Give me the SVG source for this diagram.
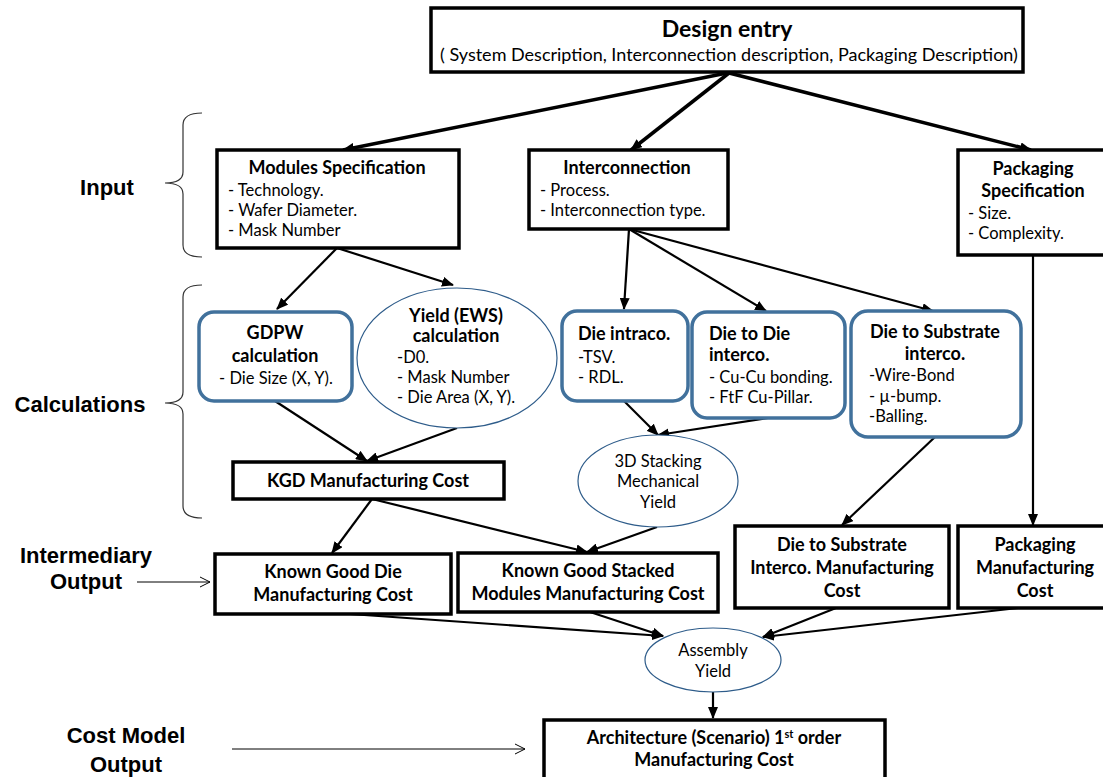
<svg xmlns="http://www.w3.org/2000/svg" width="1103" height="777" viewBox="0 0 1103 777">
<style>
.box{fill:#fff;stroke:#000;stroke-width:3.5}
.rbox{fill:#fff;stroke:#41719C;stroke-width:3.5}
.ell{fill:#fff;stroke:#2E5C8A;stroke-width:1.2}
.t{font-family:Lato,"Open Sans",sans-serif;font-size:16.5px;fill:#000}
.b{font-family:Lato,"Open Sans",sans-serif;font-size:18px;font-weight:bold;fill:#000}
.m{text-anchor:middle}
.lab{font-family:"Liberation Sans",Arial,sans-serif;font-size:22px;font-weight:bold;fill:#000;text-anchor:middle}
.e{fill:none;stroke:#000;stroke-width:2.2;marker-end:url(#ah)}
.h{fill:none;stroke:#000;stroke-width:3.5;marker-end:url(#ah)}
.thin{fill:none;stroke:#000;stroke-width:1;marker-end:url(#oa)}
.br{fill:none;stroke:#333;stroke-width:1.2}
</style>
<defs>
<marker id="ah" markerUnits="userSpaceOnUse" markerWidth="12" markerHeight="10" refX="11" refY="5" orient="auto">
<path d="M0,0 L12,5 L0,10 z" fill="#000"/>
</marker>
<marker id="oa" markerUnits="userSpaceOnUse" markerWidth="12" markerHeight="12" refX="11" refY="6" orient="auto">
<path d="M1,1 L11,6 L1,11" fill="none" stroke="#000" stroke-width="1"/>
</marker>
</defs>
<rect width="1103" height="777" fill="#fff"/>

<g id="labels">
<path class="br" d="M202,113 Q183,113 183,125 L183,172 Q183,183 165,183 Q183,183 183,194 L183,245 Q183,257 202,257"/>
<path class="br" d="M202,285 Q183,285 183,297 L183,392 Q183,403 165,403 Q183,403 183,414 L183,506 Q183,518 202,518"/>
<text class="lab" x="107" y="195">Input</text>
<text class="lab" x="80" y="412">Calculations</text>
<text class="lab" x="86" y="563">Intermediary</text>
<text class="lab" x="86" y="589">Output</text>
<text class="lab" x="126" y="743">Cost Model</text>
<text class="lab" x="126" y="772">Output</text>
</g>

<g id="connectors">
<line class="h" x1="727" y1="73" x2="343" y2="150"/>
<line class="h" x1="729" y1="73" x2="631" y2="150"/>
<line class="h" x1="729" y1="73" x2="1031" y2="150"/>
<line class="e" x1="337" y1="248" x2="277" y2="309"/>
<line class="e" x1="337" y1="248" x2="453" y2="285"/>
<line class="e" x1="629" y1="229" x2="624" y2="309"/>
<line class="e" x1="629" y1="229" x2="766" y2="311"/>
<line class="e" x1="629" y1="229" x2="933" y2="311"/>
<line class="e" x1="1033" y1="255" x2="1033" y2="525"/>
<line class="e" x1="275" y1="401" x2="367" y2="461"/>
<line class="e" x1="457" y1="428" x2="367" y2="461"/>
<line class="e" x1="624" y1="401" x2="658" y2="435"/>
<line class="e" x1="768" y1="418" x2="658" y2="435"/>
<line class="e" x1="935" y1="437" x2="842" y2="525"/>
<line class="e" x1="372" y1="499" x2="332" y2="553"/>
<line class="e" x1="372" y1="499" x2="587" y2="552"/>
<line class="e" x1="657" y1="527" x2="587" y2="552"/>
<line class="e" x1="350" y1="614" x2="663" y2="636"/>
<line class="e" x1="590" y1="612" x2="663" y2="636"/>
<line class="e" x1="836" y1="608" x2="763" y2="637"/>
<line class="e" x1="1018" y1="608" x2="763" y2="637"/>
<line class="e" x1="713" y1="692" x2="713" y2="718"/>
<line class="thin" x1="137" y1="582" x2="210" y2="582"/>
<line class="thin" x1="232" y1="749" x2="525" y2="749"/>
</g>

<g id="design-entry">
<rect class="box" x="431" y="8" width="592" height="64"/>
<text class="b m" x="727" y="37" style="font-size:23px">Design entry</text>
<text class="t m" x="729" y="61" style="font-size:18px">( System Description, Interconnection description, Packaging Description)</text>
</g>

<g id="modules-spec">
<rect class="box" x="217" y="150" width="242" height="98"/>
<text class="b m" x="337" y="174">Modules Specification</text>
<text class="t" x="228" y="196">- Technology.</text>
<text class="t" x="228" y="216">- Wafer Diameter.</text>
<text class="t" x="228" y="236">- Mask Number</text>
</g>

<g id="interconnection">
<rect class="box" x="529" y="150" width="199" height="79"/>
<text class="b m" x="627" y="174">Interconnection</text>
<text class="t" x="540" y="196">- Process.</text>
<text class="t" x="540" y="216">- Interconnection type.</text>
</g>

<g id="packaging-spec">
<rect class="box" x="958" y="150" width="160" height="105"/>
<text class="b m" x="1033" y="175">Packaging</text>
<text class="b m" x="1033" y="197">Specification</text>
<text class="t" x="968" y="219">- Size.</text>
<text class="t" x="968" y="239">- Complexity.</text>
</g>

<g id="gdpw">
<rect class="rbox" x="199" y="312" width="153" height="89" rx="15"/>
<text class="b m" x="275" y="339">GDPW</text>
<text class="b m" x="275" y="362">calculation</text>
<text class="t m" x="276" y="384">- Die Size (X, Y).</text>
</g>

<g id="yield-ews">
<ellipse class="ell" cx="457" cy="358" rx="100" ry="70"/>
<text class="b m" x="456" y="322">Yield (EWS)</text>
<text class="b m" x="456" y="342">calculation</text>
<text class="t" x="397" y="363">-D0.</text>
<text class="t" x="397" y="383">- Mask Number</text>
<text class="t" x="397" y="403">- Die Area (X, Y).</text>
</g>

<g id="die-intraco">
<rect class="rbox" x="562" y="311" width="126" height="90" rx="15"/>
<text class="b" x="578" y="340">Die intraco.</text>
<text class="t" x="578" y="363">-TSV.</text>
<text class="t" x="578" y="383">- RDL.</text>
</g>

<g id="die-to-die">
<rect class="rbox" x="692" y="312" width="153" height="106" rx="15"/>
<text class="b" x="709" y="340">Die to Die</text>
<text class="b" x="709" y="361">interco.</text>
<text class="t" x="709" y="383">- Cu-Cu bonding.</text>
<text class="t" x="709" y="403">- FtF Cu-Pillar.</text>
</g>

<g id="die-to-substrate">
<rect class="rbox" x="851" y="311" width="170" height="126" rx="17"/>
<text class="b m" x="935" y="338">Die to Substrate</text>
<text class="b m" x="935" y="360">interco.</text>
<text class="t" x="869" y="381">-Wire-Bond</text>
<text class="t" x="869" y="402">- µ-bump.</text>
<text class="t" x="869" y="422">-Balling.</text>
</g>

<g id="kgd-cost">
<rect class="box" x="233" y="462" width="271" height="37"/>
<text class="b m" x="368" y="487">KGD Manufacturing Cost</text>
</g>

<g id="stacking-yield">
<ellipse class="ell" cx="658" cy="481" rx="80" ry="46"/>
<text class="t m" x="658" y="467">3D Stacking</text>
<text class="t m" x="658" y="487">Mechanical</text>
<text class="t m" x="658" y="508">Yield</text>
</g>

<g id="known-good-die">
<rect class="box" x="215" y="554" width="236" height="60"/>
<text class="b m" x="333" y="578">Known Good Die</text>
<text class="b m" x="333" y="601">Manufacturing Cost</text>
</g>

<g id="known-good-stacked">
<rect class="box" x="458" y="553" width="260" height="59"/>
<text class="b m" x="588" y="577">Known Good Stacked</text>
<text class="b m" x="588" y="600">Modules Manufacturing Cost</text>
</g>

<g id="die-substrate-cost">
<rect class="box" x="735" y="526" width="214" height="82"/>
<text class="b m" x="842" y="551">Die to Substrate</text>
<text class="b m" x="842" y="574">Interco. Manufacturing</text>
<text class="b m" x="842" y="597">Cost</text>
</g>

<g id="packaging-cost">
<rect class="box" x="958" y="526" width="160" height="82"/>
<text class="b m" x="1035" y="551">Packaging</text>
<text class="b m" x="1035" y="574">Manufacturing</text>
<text class="b m" x="1035" y="597">Cost</text>
</g>

<g id="assembly-yield">
<ellipse class="ell" cx="713" cy="660" rx="68" ry="32"/>
<text class="t m" x="713" y="656">Assembly</text>
<text class="t m" x="713" y="677">Yield</text>
</g>

<g id="architecture-cost">
<rect class="box" x="544" y="720" width="341" height="60"/>
<text class="b m" x="714" y="744">Architecture (Scenario) 1<tspan dy="-6" style="font-size:11px">st</tspan><tspan dy="6"> order</tspan></text>
<text class="b m" x="714" y="766">Manufacturing Cost</text>
</g>
</svg>
